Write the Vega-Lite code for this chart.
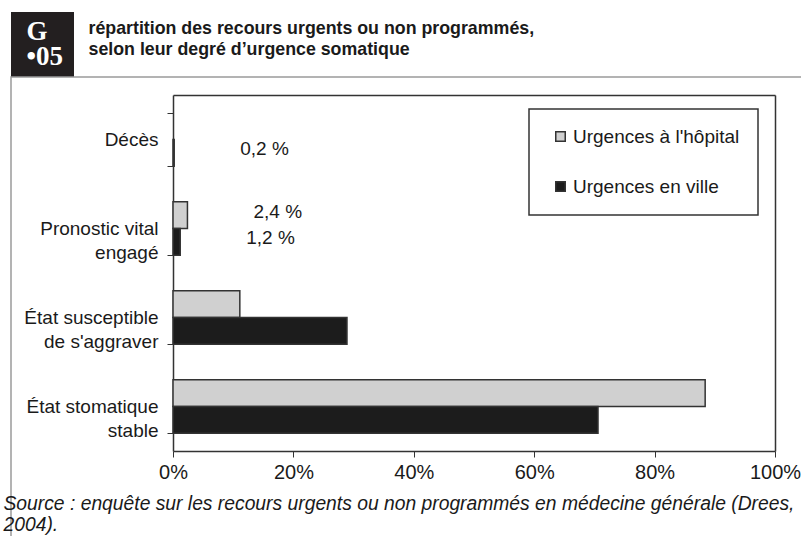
{
  "$schema": "https://vega.github.io/schema/vega-lite/v6.json",
  "background": "white",
  "padding": {"left": 2, "top": 12, "right": 0, "bottom": 0},
  "spacing": -11,
  "resolve": {"scale": {"fill": "independent"}, "legend": {"fill": "independent"}},
  "config": {"font": "Liberation Sans", "view": {"stroke": null}, "concat": {"spacing": 0}},
  "vconcat": [
    {
      "spacing": 14,
      "hconcat": [
        {
          "width": 63,
          "height": 65,
          "view": {"fill": "#231f20", "stroke": null},
          "data": {"values": [{"t": "G"}, {"t": "•05"}]},
          "mark": {"type": "text", "color": "white", "font": "Liberation Serif", "fontWeight": "bold", "fontSize": 27, "baseline": "middle", "align": "left", "dx": -16},
          "encoding": {
            "y": {"field": "t", "type": "nominal", "sort": null, "axis": null, "scale": {"padding": 0.83}},
            "text": {"field": "t"}
          }
        },
        {
          "width": 1,
          "height": 55,
          "data": {"values": [{"line": "répartition des recours urgents ou non programmés,"}, {"line": "selon leur degré d’urgence somatique"}]},
          "mark": {"type": "text", "align": "left", "baseline": "middle", "fontWeight": "bold", "fontSize": 17.8, "color": "#1a1a1a"},
          "encoding": {
            "y": {"field": "line", "type": "nominal", "sort": null, "axis": null, "scale": {"padding": 0.81}},
            "text": {"field": "line"}
          }
        }
      ]
    },
    {
      "width": 790,
      "height": 459,
      "view": {"stroke": "#9a9a9a", "strokeWidth": 1.5, "strokeDash": [790, 1249, 459]},
      "data": {
        "values": [
          {"cat": "Décès", "type": "Urgences en ville", "value": 0.2, "label": "0,2 %"},
          {"cat": "Pronostic vital|engagé", "type": "Urgences à l'hôpital", "value": 2.4, "label": "2,4 %"},
          {"cat": "Pronostic vital|engagé", "type": "Urgences en ville", "value": 1.2, "label": "1,2 %"},
          {"cat": "État susceptible|de s'aggraver", "type": "Urgences à l'hôpital", "value": 11.1, "label": null},
          {"cat": "État susceptible|de s'aggraver", "type": "Urgences en ville", "value": 28.9, "label": null},
          {"cat": "État stomatique|stable", "type": "Urgences à l'hôpital", "value": 88.4, "label": null},
          {"cat": "État stomatique|stable", "type": "Urgences en ville", "value": 70.6, "label": null}
        ]
      },
      "resolve": {"axis": {"x": "independent", "y": "independent"}},
      "layer": [
        {
          "mark": {"type": "bar", "stroke": "#333333", "strokeWidth": 1.5},
          "encoding": {
            "y": {
              "field": "cat", "type": "nominal",
              "sort": ["Décès", "Pronostic vital|engagé", "État susceptible|de s'aggraver", "État stomatique|stable"],
              "scale": {"range": [18, 374], "paddingInner": 0.4, "paddingOuter": 0.2},
              "axis": {
                "orient": "left", "offset": -162, "title": null, "tickBand": "extent", "tickSize": 6,
                "tickColor": "#333333", "domainColor": "#333333", "domainWidth": 1.5,
                "labelPadding": 9, "labelFontSize": 19, "labelColor": "#1a1a1a",
                "labelExpr": "split(datum.label, '|')", "labelLineHeight": 23.5, "labelLimit": 300
              }
            },
            "yOffset": {
              "field": "type", "type": "nominal",
              "sort": ["Urgences à l'hôpital", "Urgences en ville"],
              "scale": {"domain": ["Urgences à l'hôpital", "Urgences en ville"], "paddingInner": 0, "paddingOuter": 0}
            },
            "x": {
              "field": "value", "type": "quantitative",
              "scale": {"domain": [0, 100], "range": [162, 764], "nice": false},
              "axis": {
                "orient": "bottom", "offset": -85, "values": [0, 20, 40, 60, 80, 100],
                "labelExpr": "datum.value + '%'", "labelFlush": false, "grid": false, "tickSize": 6,
                "tickColor": "#333333", "domainColor": "#333333", "domainWidth": 1.5,
                "labelFontSize": 20, "labelPadding": 5, "labelColor": "#1a1a1a",
                "title": ["Source : enquête sur les recours urgents ou non programmés en médecine générale (Drees,", "2004)."],
                "titleFontStyle": "italic", "titleFontWeight": "normal", "titleFontSize": 19.3,
                "titleAlign": "left", "titleX": -8, "titleY": 43, "titleBaseline": "top",
                "titleLineHeight": 21, "titleColor": "#1a1a1a", "titleLimit": 800
              }
            },
            "fill": {
              "field": "type", "type": "nominal",
              "scale": {"domain": ["Urgences à l'hôpital", "Urgences en ville"], "range": ["#d0d0d0", "#1c1c1c"]},
              "legend": {
                "orient": "none", "legendX": 518, "legendY": 32, "title": null,
                "symbolType": "square", "symbolSize": 90, "symbolStrokeColor": "#333333", "symbolStrokeWidth": 1.5,
                "labelFontSize": 19, "labelColor": "#1a1a1a", "labelLimit": 300, "rowPadding": 30, "padding": 18,
                "symbolOffset": 4, "labelOffset": 3, "strokeColor": "#333333",
                "labelExpr": "datum.label + '    '",
                "encode": {"legend": {"update": {"strokeWidth": {"value": 1.5}}}}
              }
            }
          }
        },
        {
          "transform": [{"filter": "datum.label != null"}],
          "mark": {"type": "text", "align": "left", "baseline": "middle", "dx": 66, "dy": -3.5, "fontSize": 19, "color": "#1a1a1a"},
          "encoding": {
            "y": {
              "field": "cat", "type": "nominal",
              "sort": ["Décès", "Pronostic vital|engagé", "État susceptible|de s'aggraver", "État stomatique|stable"],
              "axis": {"orient": "right", "offset": -26, "labels": false, "ticks": false, "title": null, "domainColor": "#333333", "domainWidth": 1.5}
            },
            "yOffset": {
              "field": "type", "type": "nominal",
              "sort": ["Urgences à l'hôpital", "Urgences en ville"]
            },
            "x": {
              "field": "value", "type": "quantitative",
              "axis": {"orient": "top", "offset": -18, "labels": false, "ticks": false, "grid": false, "title": null, "domainColor": "#333333", "domainWidth": 1.5}
            },
            "text": {"field": "label"}
          }
        }
      ]
    }
  ]
}
